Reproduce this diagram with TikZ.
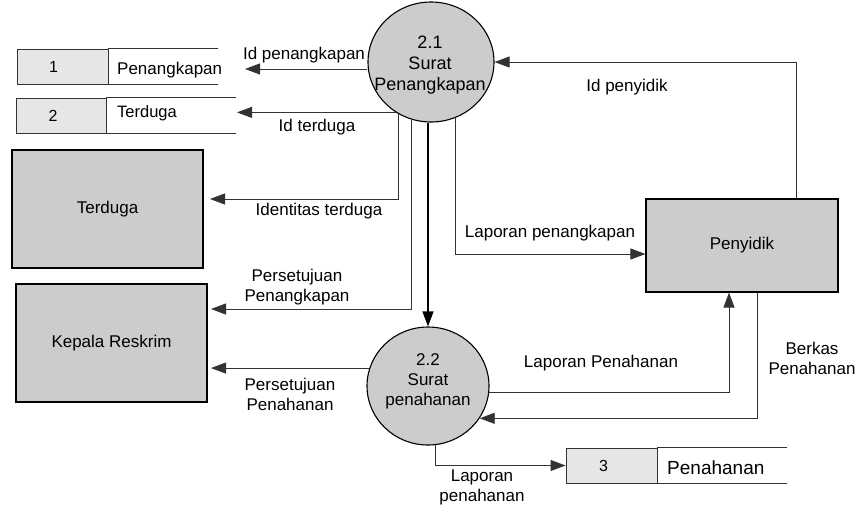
\documentclass[tikz,border=0pt]{standalone}
\usepackage{fontspec}
\setmainfont{Liberation Sans}
\usetikzlibrary{shapes.geometric,arrows.meta}

\begin{document}
\begin{tikzpicture}[x=1pt, y=-1pt, font=\fontsize{17}{20}\selectfont,
    flow/.style={draw=lineColour, line width=0.9pt, -{Triangle[length=15pt,width=11pt]}},
    entity/.style={draw=black, line width=1.1pt, fill=fillColourE, inner sep=0pt},
    process/.style={ellipse, draw=black, line width=1.1pt, fill=fillColourE, inner sep=0pt},
    storecell/.style={draw=lineColour, line width=0.9pt, fill=fillColourS, minimum width=91pt, minimum height=35pt, inner sep=0pt},
    storeline/.style={draw=lineColour, line width=0.9pt},
    flowlabel/.style={align=center, inner sep=0pt}]

    \definecolor{lineColour}{HTML}{333333}
    \definecolor{fillColourE}{HTML}{CCCCCC}
    \definecolor{fillColourS}{HTML}{E6E6E6}

    \useasboundingbox (0,0) rectangle (859,507);

    % Processes
    \node[process, minimum width=126pt, minimum height=120pt] (pSuratPkp) at (431,62) {};
    \node[align=center, inner sep=0pt, font=\fontsize{18}{21}\selectfont] (pSuratPkpTxt) at (430,65) {2.1\\Surat\\Penangkapan};
    \node[process, minimum width=122pt, minimum height=118pt] (pSuratPnh) at (428,386) {};
    \node[align=center, inner sep=0pt] (pSuratPnhTxt) at (428,381) {2.2\\Surat\\penahanan};

    % External entities
    \node[entity, minimum width=191pt, minimum height=118pt] (eTerduga) at (107.5,209) {Terduga};
    \node[entity, minimum width=191pt, minimum height=118pt] (eKepala) at (111.5,343) {Kepala Reskrim};
    \node[entity, minimum width=192pt, minimum height=93pt] (ePenyidik) at (742,245.5) {Penyidik};

    % Data stores
    \node[storecell] (ds1) at (62.5,66.5) {};
    \node[inner sep=0pt, font=\fontsize{16}{19}\selectfont] (ds1num) at ([xshift=-9pt]ds1.center) {1};
    \draw[storeline] (ds1.north east) -- ++(110,0);
    \draw[storeline] (ds1.south east) -- ++(110,0);
    \node[anchor=west, inner sep=0pt] (ds1name) at (117,70) {Penangkapan};

    \node[storecell, minimum width=90pt] (ds2) at (61,115.5) {};
    \node[inner sep=0pt, font=\fontsize{16}{19}\selectfont] (ds2num) at ([xshift=-8pt]ds2.center) {2};
    \draw[storeline] (ds2.north east) -- ++(130,0);
    \draw[storeline] (ds2.south east) -- ++(130,0);
    \node[anchor=west, inner sep=0pt, font=\fontsize{16.5}{20}\selectfont] (ds2name) at (117,113) {Terduga};

    \node[storecell] (ds3) at (611.5,465.5) {};
    \node[inner sep=0pt, font=\fontsize{16}{19}\selectfont] (ds3num) at ([xshift=-8pt]ds3.center) {3};
    \draw[storeline] (ds3.north east) -- ++(130,0);
    \draw[storeline] (ds3.south east) -- ++(130,0);
    \node[anchor=west, inner sep=0pt, font=\fontsize{19}{22}\selectfont] (ds3name) at (667,468) {Penahanan};

    % Free ends of the flows
    \coordinate (ds1in) at (245,69);
    \coordinate (ds2in) at (237,112);
    \coordinate (eTerdugaIn) at (210,199);
    \coordinate (eKepalaIn1) at (211,309);
    \coordinate (eKepalaIn2) at (211,368);
    \coordinate (colLapPkp) at (646,254);
    \coordinate (colIdPenyidik) at (796,0);
    \coordinate (colLapPnh) at (729,0);
    \coordinate (colBerkas) at (757,0);

    % Flows from 2.1
    \draw[flow] (pSuratPkp.west |- ds1in) -- (ds1in);
    \draw[flow] (pSuratPkp.235) -- (pSuratPkp.235 -| ds2in);
    \draw[flow] (pSuratPkp.238) |- (eTerdugaIn);
    \draw[flow] (pSuratPkp.251) |- (eKepalaIn1);
    \draw[flow, draw=black, line width=1.3pt] (pSuratPkp.south -| pSuratPnh.north) -- (pSuratPnh.north);
    \draw[flow] (pSuratPkp.294) |- (ePenyidik.west |- colLapPkp);
    \draw[flow] (ePenyidik.north -| colIdPenyidik) |- (pSuratPkp.east);

    % Flows from 2.2
    \draw[flow] (pSuratPnh.163) -- (pSuratPnh.163 -| eKepalaIn2);
    \draw[flow] (pSuratPnh.354) -| (ePenyidik.south -| colLapPnh);
    \draw[flow] (ePenyidik.south -| colBerkas) |- (pSuratPnh.328);
    \draw[flow] (pSuratPnh.277) |- (ds3.west);

    % Flow labels
    \node[flowlabel] (lIdPkp) at (304,55) {Id penangkapan};
    \node[flowlabel] (lIdTerduga) at (317,127) {Id terduga};
    \node[flowlabel] (lIdentitas) at (319,211) {Identitas terduga};
    \node[flowlabel] (lSetujuPkp) at (297,287) {Persetujuan\\Penangkapan};
    \node[flowlabel] (lLapPkp) at (550,233) {Laporan penangkapan};
    \node[flowlabel] (lIdPenyidik) at (627,87) {Id penyidik};
    \node[flowlabel] (lSetujuPnh) at (290,394) {Persetujuan\\Penahanan};
    \node[flowlabel] (lLapPnh) at (601,363) {Laporan Penahanan};
    \node[flowlabel] (lBerkas) at (812,358) {Berkas\\Penahanan};
    \node[flowlabel] (lLapPnh2) at (482,487) {Laporan\\penahanan};

\end{tikzpicture}
\end{document}
